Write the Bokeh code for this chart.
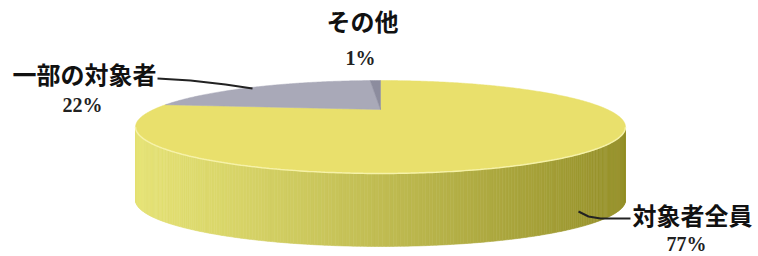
import math
from bokeh.plotting import figure
from bokeh.models import Range1d
from bokeh.core.properties import value
from bokeh.embed import file_html
from bokeh.resources import INLINE

# ---- data ----
categories = ["対象者全員", "一部の対象者", "その他"]
percents = [77, 22, 1]
pct_labels = ["77%", "22%", "1%"]
top_colors = ["#E9E06C", "#A9A9B8", "#8C8C9E"]

# ---- geometry (screen pixels of the 3D pie) ----
CX, CY = 380.0, 109.0   # projected centre of the top face
SX, SY = 227.0, 39.9    # horizontal / depth scale
PERSP = 0.376           # perspective factor
DEPTH = 73.0            # thickness of the pie in screen pixels

W, H = 758, 256


def proj(t):
    c, s = math.cos(t), math.sin(t)
    w = 1.0 + PERSP * s
    return CX + SX * c / w, CY - SY * s / w


p = figure(width=W, height=H, output_backend="svg", toolbar_location=None,
           x_range=Range1d(0, W), y_range=Range1d(H, 0),
           min_border=0, outline_line_color=None)
p.axis.visible = False
p.grid.visible = False
p.background_fill_color = "white"
p.border_fill_color = "white"

# slice angle ranges (start at 12 o'clock, clockwise)
total = float(sum(percents))
ranges = []
a = math.pi / 2
for v in percents:
    sweep = 2 * math.pi * v / total
    ranges.append((a, a - sweep))
    a -= sweep

# visible front side: between the two silhouette points
t_left = math.pi + math.asin(PERSP)
t_right = 2 * math.pi - math.asin(PERSP)

light = (230, 227, 118)
dark = (150, 145, 42)
xl, _ = proj(t_left)
xr, _ = proj(t_right)

sx_list, sy_list, scol = [], [], []
for (a0, a1), col in zip(ranges, top_colors):
    lo, hi = min(a0, a1), max(a0, a1)
    for k in (-1, 0, 1):
        s0 = max(lo + 2 * math.pi * k, t_left)
        s1 = min(hi + 2 * math.pi * k, t_right)
        if s1 <= s0:
            continue
        n = max(2, int((s1 - s0) / 0.01))
        for i in range(n):
            u0 = s0 + (s1 - s0) * i / n
            u1 = s0 + (s1 - s0) * (i + 1) / n
            x0, y0 = proj(u0)
            x1, y1 = proj(u1)
            sx_list.append([x0, x1, x1, x0])
            sy_list.append([y0, y1, y1 + DEPTH, y0 + DEPTH])
            f = ((x0 + x1) / 2 - xl) / (xr - xl)
            f = min(max(f, 0), 1) ** 1.1
            rgb = [int(light[j] + (dark[j] - light[j]) * f) for j in range(3)]
            scol.append("#%02x%02x%02x" % tuple(rgb))

p.patches(sx_list, sy_list, fill_color=scol, line_color=scol, line_width=0.6)

# top faces
txs, tys = [], []
for (a0, a1) in ranges:
    n = max(3, int(abs(a1 - a0) / 0.01))
    xs, ys = [CX], [CY]
    for i in range(n + 1):
        x, y = proj(a0 + (a1 - a0) * i / n)
        xs.append(x)
        ys.append(y)
    txs.append(xs)
    tys.append(ys)
p.patches(txs, tys, fill_color=top_colors, line_color=top_colors, line_width=0.5)

# bright rim along the front edge
rx, ry = [], []
n = 200
for i in range(n + 1):
    t = t_left + (t_right - t_left) * i / n
    x, y = proj(t)
    rx.append(x)
    ry.append(y)
p.line(rx, ry, line_color="#F6F2A8", line_width=1.5)

# leader lines
p.line([157, 190, 225, 252], [78, 80, 84, 88], line_color="#222222", line_width=2)
p.line([578, 588, 600, 630], [211, 216, 218, 218], line_color="#222222", line_width=2)

# labels
cat_pos = [(692, 214), (84, 73), (362, 20)]
pct_pos = [(686, 243), (82, 104), (360, 57)]
cjk = value("Noto Sans CJK JP")
for (lx, ly), name in zip(cat_pos, categories):
    p.text([lx], [ly], text=[name], text_font=cjk, text_font_size="24px",
           text_font_style="bold", text_color="#111111",
           text_align="center", text_baseline="middle")
for (lx, ly), lab in zip(pct_pos, pct_labels):
    p.text([lx], [ly], text=[lab], text_font=value("Liberation Serif"),
           text_font_size="20px", text_font_style="bold", text_color="#222222",
           text_align="center", text_baseline="middle")

open("out.html", "w").write(file_html(p, INLINE))
